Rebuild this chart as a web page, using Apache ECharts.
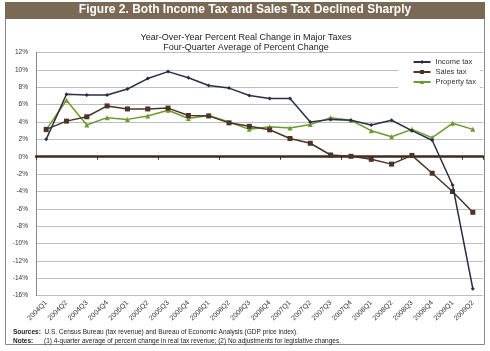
<!DOCTYPE html>
<html>
<head>
<meta charset="utf-8">
<title>Figure 2</title>
<script src="https://cdn.jsdelivr.net/npm/echarts@6/dist/echarts.min.js"></script>
<style>
  html, body { margin: 0; padding: 0; background: #fff; }
  #main { width: 490px; height: 351px; }
</style>
</head>
<body>
<div id="main"></div>
<script type="text/javascript">
// quarters
var quarters = ['2004Q1','2004Q2','2004Q3','2004Q4','2005Q1','2005Q2','2005Q3','2005Q4',
  '2006Q1','2006Q2','2006Q3','2006Q4','2007Q1','2007Q2','2007Q3','2007Q4',
  '2008Q1','2008Q2','2008Q3','2008Q4','2009Q1','2009Q2'];

// four-quarter average of percent change
var incomeTax = [2.0, 7.2, 7.1, 7.1, 7.8, 9.0, 9.8, 9.1, 8.2, 7.9, 7.05, 6.7, 6.7, 4.0, 4.3, 4.2,
  3.65, 4.2, 3.0, 1.9, -3.25, -15.2];
var salesTax = [3.15, 4.1, 4.6, 5.85, 5.5, 5.5, 5.6, 4.75, 4.7, 3.9, 3.5, 3.1, 2.1, 1.55, 0.2, 0.05,
  -0.3, -0.85, 0.15, -1.9, -4.0, -6.4];
var propertyTax = [3.1, 6.5, 3.65, 4.5, 4.3, 4.7, 5.35, 4.4, 4.75, 4.0, 3.15, 3.45, 3.3, 3.7, 4.5, 4.2,
  3.0, 2.3, 3.15, 2.2, 3.85, 3.15];

var myChart = echarts.init(document.getElementById('main'));

var lineFont = 'Arial, "Liberation Sans", sans-serif';

var option = {
  animation: false,
  textStyle: { fontFamily: lineFont },
  graphic: [
    // outer frame
    { type: 'rect', shape: { x: 5.5, y: 2.5, width: 479, height: 342 },
      style: { fill: 'none', stroke: '#8a8a8a', lineWidth: 1 }, z: -1 },
    // header bar
    { type: 'rect', shape: { x: 5, y: 2, width: 480, height: 17 },
      style: { fill: '#7a6a55' } },
    { type: 'text', left: 'center', top: 4,
      style: { text: 'Figure 2. Both Income Tax and Sales Tax Declined Sharply',
        fill: '#fff', font: 'bold 12px ' + lineFont } },
    { type: 'text', left: 13, top: 329,
      style: { text: '{b|Sources:}  U.S. Census Bureau (tax revenue) and Bureau of Economic Analysis (GDP price index).',
        fill: '#222', font: '6.5px ' + lineFont,
        rich: { b: { fontWeight: 'bold', fontSize: 6.5 } } } },
    { type: 'text', left: 13, top: 337.5,
      style: { text: '{b|Notes:}(1) 4-quarter average of percent change in real tax revenue; (2) No adjustments for legislative changes.',
        fill: '#222', font: '6.5px ' + lineFont,
        rich: { b: { fontWeight: 'bold', fontSize: 6.5, width: 31 } } } }
  ],
  title: {
    text: 'Year-Over-Year Percent Real Change in Major Taxes\nFour-Quarter Average of Percent Change',
    left: 241, textAlign: 'center', top: 28,
    textStyle: { fontSize: 9, fontWeight: 'normal', color: '#222', lineHeight: 10 }
  },
  legend: {
    orient: 'vertical', right: 10, top: 56,
    itemWidth: 17, itemHeight: 5, itemGap: 2,
    backgroundColor: '#fff', padding: [2, 4, 2, 14],
    textStyle: { fontSize: 7.5, color: '#333', lineHeight: 6 },
    data: ['Income tax', 'Sales tax', 'Property tax']
  },
  grid: { left: 36, right: 7, top: 52.5, bottom: 55.3, containLabel: false },
  xAxis: [{
    type: 'category', data: quarters, position: 'bottom',
    axisLine: { show: false, onZero: false },
    axisTick: { show: false },
    axisLabel: { rotate: 45, fontSize: 7, color: '#333', interval: 0, margin: 6 }
  }, {
    type: 'category', data: quarters, position: 'top',
    axisLine: { show: true, onZero: true, lineStyle: { color: '#3d2b20', width: 2.5 } },
    axisTick: { show: true, inside: true, length: 3, lineStyle: { color: '#3d2b20' } },
    axisLabel: { show: false }
  }],
  yAxis: {
    type: 'value', min: -16, max: 12, interval: 2,
    axisLine: { show: true, lineStyle: { color: '#888' } },
    axisTick: { show: false },
    axisLabel: { formatter: '{value}%', fontSize: 6.5, color: '#333', margin: 8 },
    splitLine: { lineStyle: { color: '#bfbfbf', width: 1 } }
  },
  series: [{
    name: 'Income tax', type: 'line', data: incomeTax,
    symbol: 'diamond', symbolSize: 4, color: '#2b2e45',
    lineStyle: { width: 1.5 }, z: 4
  }, {
    name: 'Sales tax', type: 'line', data: salesTax,
    symbol: 'rect', symbolSize: 5, color: '#4c3326',
    lineStyle: { width: 1.5 }, z: 3
  }, {
    name: 'Property tax', type: 'line', data: propertyTax,
    symbol: 'triangle', symbolSize: 5, color: '#6b9b30',
    lineStyle: { width: 1.5 }, z: 2
  }]
};

myChart.setOption(option);
</script>
</body>
</html>
